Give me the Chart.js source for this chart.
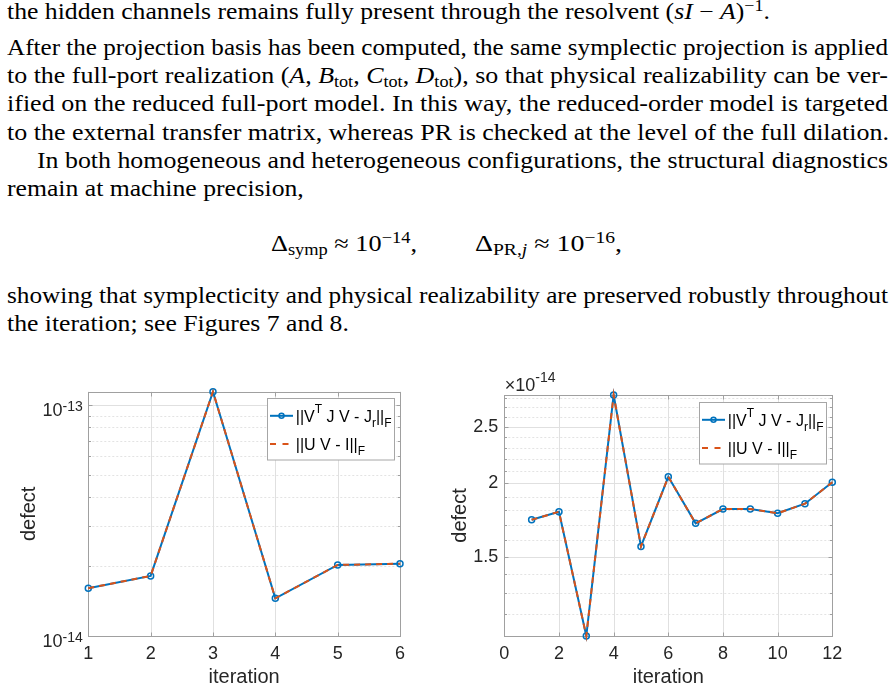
<!DOCTYPE html>
<html><head><meta charset="utf-8">
<script src="https://cdn.jsdelivr.net/npm/chart.js@4.4.1/dist/chart.umd.min.js"></script>
<style>
html,body{margin:0;padding:0;background:#fff;width:895px;height:689px;overflow:hidden;}
.txt{position:absolute;font-family:'Liberation Serif','Times New Roman',serif;font-size:22.5px;line-height:28px;color:#000;white-space:nowrap;display:inline-block;transform-origin:0 50%;}
.sup{font-size:0.7em;position:relative;top:-0.48em;}
.sub{font-size:0.7em;position:relative;top:0.28em;}
canvas{position:absolute;}
</style></head><body>
<div class="txt ln" data-end="1" style="left:7px;top:-2px">the hidden channels remains fully present through the resolvent (<i>sI</i> − <i>A</i>)<span class="sup">−1</span>.</div>
<div class="txt ln" data-w="881" style="left:7px;top:34px">After the projection basis has been computed, the same symplectic projection is applied</div>
<div class="txt ln" data-w="881" style="left:7px;top:62px">to the full-port realization (<i>A</i>, <i>B</i><span class="sub">tot</span>, <i>C</i><span class="sub">tot</span>, <i>D</i><span class="sub">tot</span>), so that physical realizability can be ver-</div>
<div class="txt ln" data-w="881" style="left:7px;top:90px">ified on the reduced full-port model. In this way, the reduced-order model is targeted</div>
<div class="txt ln" data-w="882" style="left:7px;top:119px">to the external transfer matrix, whereas PR is checked at the level of the full dilation.</div>
<div class="txt ln" data-w="851" style="left:37px;top:147px">In both homogeneous and heterogeneous configurations, the structural diagnostics</div>
<div class="txt ln" data-end="1" style="left:7px;top:175px">remain at machine precision,</div>
<div class="txt ln" data-w="146" data-eq="1" style="left:271px;top:230px">Δ<span class="sub">symp</span> ≈ 10<span class="sup">−14</span>,</div>
<div class="txt ln" data-w="147" data-eq="1" style="left:475px;top:230px">Δ<span class="sub">PR,<i>j</i></span> ≈ 10<span class="sup">−16</span>,</div>
<div class="txt ln" data-w="881" style="left:7px;top:282px">showing that symplecticity and physical realizability are preserved robustly throughout</div>
<div class="txt ln" data-end="1" style="left:7px;top:310px">the iteration; see Figures 7 and 8.</div>

<canvas id="leftChart" width="447" height="349" style="left:0;top:340px"></canvas>
<canvas id="rightChart" width="448" height="349" style="left:447px;top:340px"></canvas>

<script>
// ---------------- data ----------------
// Figure (left): homogeneous case, 6 iterations, log-scale defects
const leftIterations = [1, 2, 3, 4, 5, 6];
const leftSymplecticDefect = [1.61e-14, 1.82e-14, 1.142e-13, 1.456e-14, 2.03e-14, 2.056e-14];   // ||V^T J V - J_r||_F
const leftBiorthDefect     = [1.61e-14, 1.82e-14, 1.142e-13, 1.456e-14, 2.03e-14, 2.056e-14];   // ||U V - I||_F
const leftXTicks = [1, 2, 3, 4, 5, 6];
const leftYTickExponents = [-14, -13];
const leftYMajor = [1e-14, 1e-13];
const leftYMinor = [2e-14, 3e-14, 4e-14, 5e-14, 6e-14, 7e-14, 8e-14, 9e-14];
const leftYRange = [1e-14, 1.142e-13];

// Figure (right): heterogeneous case, 12 iterations, values in units of 10^-14
const rightExponent = -14;
const rightIterations = [1, 2, 3, 4, 5, 6, 7, 8, 9, 10, 11, 12];
const rightSymplecticDefect = [1.734, 1.79, 1.099, 2.83, 1.562, 2.053, 1.71, 1.809, 1.809, 1.779, 1.847, 2.01];
const rightBiorthDefect     = [1.734, 1.79, 1.099, 2.83, 1.562, 2.053, 1.71, 1.809, 1.809, 1.779, 1.847, 2.01];
const rightXTicks = [0, 2, 4, 6, 8, 10, 12];
const rightYTicks = [1.5, 2, 2.5];
const rightYMinor = [1.2, 1.3, 1.4, 1.6, 1.7, 1.8, 1.9, 2.1, 2.2, 2.3, 2.4, 2.6, 2.7, 2.8];
const rightYRange = [1.099, 2.83];
const rightXRange = [0, 12];

const legendLabels = ['||V^T J V - J_r||_F', '||U V - I||_F'];

// ---------------- text layout: widen Times-metric lines to Computer-Modern widths ----------------
(function () {
  const lines = Array.from(document.querySelectorAll('.ln'));
  const scales = [];
  lines.forEach(el => {
    if (!el.dataset.w) return;
    const target = parseFloat(el.dataset.w);
    const nat = el.getBoundingClientRect().width;
    const s = target / nat;
    el.style.transform = 'scaleX(' + s + ')';
    if (!el.dataset.eq) scales.push(s);
  });
  const avg = scales.reduce((a, v) => a + v, 0) / scales.length;
  lines.forEach(el => { if (el.dataset.end) el.style.transform = 'scaleX(' + avg + ')'; });
})();

// ---------------- charts ----------------
Chart.defaults.font.family = "'Liberation Sans', Arial, Helvetica, sans-serif";
Chart.defaults.color = '#262626';
const BLUE = '#0072BD', ORANGE = '#D95319';
const FONT = "'Liberation Sans', Arial, Helvetica, sans-serif";

function pts(xs, ys) { return xs.map((x, i) => ({x: x, y: ys[i]})); }

function makeDatasets(xs, a, b) {
  return [
    {label: legendLabels[0], data: pts(xs, a), borderColor: BLUE, borderWidth: 2,
     pointRadius: 3, pointBorderWidth: 1.5, pointBackgroundColor: 'rgba(0,0,0,0)', pointBorderColor: BLUE,
     pointHoverRadius: 3, tension: 0, clip: false, order: 1},
    {label: legendLabels[1], data: pts(xs, b), borderColor: ORANGE, borderWidth: 2, borderDash: [6, 5],
     pointRadius: 0, tension: 0, clip: false, order: 0}
  ];
}

function hline(ctx, x0, x1, y) { ctx.beginPath(); ctx.moveTo(x0, y); ctx.lineTo(x1, y); ctx.stroke(); }
function vline(ctx, x, y0, y1) { ctx.beginPath(); ctx.moveTo(x, y0); ctx.lineTo(x, y1); ctx.stroke(); }

// draws a string with ^X and _X single-token super/subscripts
function drawRich(ctx, str, x, base, size) {
  const parts = [];
  let i = 0, cur = '';
  while (i < str.length) {
    const c = str[i];
    if ((c === '^' || c === '_') && i + 1 < str.length) {
      if (cur) parts.push({t: cur, k: 'n'}); cur = '';
      parts.push({t: str[i + 1], k: c === '^' ? 'sup' : 'sub'});
      i += 2;
    } else { cur += c; i++; }
  }
  if (cur) parts.push({t: cur, k: 'n'});
  ctx.textAlign = 'left'; ctx.textBaseline = 'alphabetic';
  parts.forEach(p => {
    if (p.k === 'n') {
      ctx.font = size + 'px ' + FONT;
      ctx.fillText(p.t, x, base);
    } else {
      ctx.font = Math.round(size * 0.75) + 'px ' + FONT;
      ctx.fillText(p.t, x, p.k === 'sup' ? base - 9.5 : base + 5);
    }
    x += ctx.measureText(p.t).width;
  });
}

function drawLegend(ctx, a) {
  const w = 127, h = 61.5;
  const x0 = Math.round(a.right - 6.3 - w) + 0.5, y0 = Math.round(a.top + 6.5) + 0.5;
  ctx.save();
  ctx.fillStyle = '#fff'; ctx.fillRect(x0, y0, w, h);
  ctx.strokeStyle = '#a6a6a6'; ctx.lineWidth = 1; ctx.setLineDash([]);
  ctx.strokeRect(x0, y0, w, h);
  const rows = [y0 + 17.3, y0 + 45.4];
  const sx0 = x0 + 2.5, sx1 = x0 + 25.5;
  ctx.strokeStyle = BLUE; ctx.lineWidth = 2;
  hline(ctx, sx0, sx1, rows[0]);
  ctx.lineWidth = 1.5; ctx.beginPath(); ctx.arc((sx0 + sx1) / 2, rows[0], 2.5, 0, Math.PI * 2); ctx.stroke();
  ctx.strokeStyle = ORANGE; ctx.lineWidth = 2; ctx.setLineDash([6, 6.5]);
  hline(ctx, sx0, sx1, rows[1]);
  ctx.setLineDash([]);
  ctx.fillStyle = '#000';
  drawRich(ctx, legendLabels[0], x0 + 28.3, rows[0] + 6.5, 16);
  drawRich(ctx, legendLabels[1], x0 + 28.3, rows[1] + 6.5, 16);
  ctx.restore();
}

function decorPlugin(cfg) {
  return {
    id: 'decor',
    beforeDatasetsDraw(chart) {
      const {ctx, chartArea: a, scales: {x, y}} = chart;
      ctx.save();
      ctx.lineWidth = 1;
      ctx.strokeStyle = '#e3e3e3'; ctx.setLineDash([2, 2]);
      cfg.yMinor.forEach(v => hline(ctx, a.left, a.right, Math.round(y.getPixelForValue(v)) + 0.5));
      ctx.setLineDash([]);
      ctx.strokeStyle = '#e0e0e0';
      cfg.yMajor.forEach(v => hline(ctx, a.left, a.right, Math.round(y.getPixelForValue(v)) + 0.5));
      cfg.xMajor.forEach(v => vline(ctx, Math.round(x.getPixelForValue(v)) + 0.5, a.top, a.bottom));
      ctx.strokeStyle = '#a0a0a0';
      const L = Math.round(a.left) + 0.5, R = Math.round(a.right) + 0.5, T = Math.round(a.top) + 0.5, B = Math.round(a.bottom) + 0.5;
      ctx.strokeRect(L, T, R - L, B - T);
      cfg.yMajor.forEach(v => { const p = Math.round(y.getPixelForValue(v)) + 0.5; hline(ctx, L, L + 4, p); hline(ctx, R - 4, R, p); });
      cfg.yMinor.forEach(v => { const p = Math.round(y.getPixelForValue(v)) + 0.5; hline(ctx, L, L + 2.5, p); hline(ctx, R - 2.5, R, p); });
      cfg.xMajor.forEach(v => { const p = Math.round(x.getPixelForValue(v)) + 0.5; vline(ctx, p, B - 4, B); vline(ctx, p, T, T + 4); });
      ctx.restore();
    },
    afterDatasetsDraw(chart) {
      const {ctx, chartArea: a, scales: {y}} = chart;
      ctx.save();
      ctx.fillStyle = '#262626';
      if (cfg.powerLabels) {
        cfg.powerLabels.forEach(e => {
          const p = y.getPixelForValue(Math.pow(10, e));
          const sup = '-' + Math.abs(e);
          ctx.font = '14px ' + FONT;
          const ws = ctx.measureText(sup).width;
          ctx.font = '18px ' + FONT;
          const wb = ctx.measureText('10').width;
          const xr = a.left - 5.6;
          ctx.textAlign = 'left'; ctx.textBaseline = 'alphabetic';
          ctx.fillText('10', xr - ws - wb, p + 10.5);
          ctx.font = '14px ' + FONT;
          ctx.fillText(sup, xr - ws, p + 5.5);
        });
      }
      if (cfg.exponent !== undefined) {
        ctx.textAlign = 'left'; ctx.textBaseline = 'alphabetic';
        ctx.font = '18px ' + FONT;
        let xx = a.left + 0.5;
        ctx.fillText('×', xx, a.top - 4.3);
        xx += ctx.measureText('×').width;
        ctx.fillText('10', xx, a.top - 4.3);
        xx += ctx.measureText('10').width;
        ctx.font = '14px ' + FONT;
        ctx.fillText('-' + Math.abs(cfg.exponent), xx, a.top - 13.5);
      }
      ctx.restore();
      drawLegend(ctx, a);
    }
  };
}

function baseOptions(o) {
  return {
    responsive: false, animation: false, devicePixelRatio: 1,
    layout: {padding: {left: 0, right: o.padRight, top: o.padTop, bottom: 0}},
    plugins: {legend: {display: false}, tooltip: {enabled: false}},
    events: [],
    scales: {
      x: {
        type: 'linear', min: o.xMin, max: o.xMax,
        afterBuildTicks: s => { s.ticks = o.xTicks.map(v => ({value: v})); },
        ticks: {font: {size: 18}, color: '#262626', padding: 7, maxRotation: 0, autoSkip: false},
        grid: {display: false, drawTicks: false}, border: {display: false},
        title: {display: true, text: 'iteration', font: {size: 20}, color: '#262626', padding: {top: 0, bottom: 0}},
        afterFit: s => { s.height = 53; }
      },
      y: {
        type: 'logarithmic', min: o.yMin, max: o.yMax,
        afterBuildTicks: s => { s.ticks = o.yLabelTicks.map(v => ({value: v})); },
        ticks: {display: o.showYTicks, font: {size: 18}, color: '#262626', padding: 6, autoSkip: false,
                callback: v => String(v)},
        grid: {display: false, drawTicks: false}, border: {display: false},
        title: {display: true, text: 'defect', font: {size: 20}, color: '#262626', padding: {top: o.yTitlePad, bottom: 0}},
        afterFit: s => { s.width = o.yWidth; }
      }
    }
  };
}

new Chart(document.getElementById('leftChart'), {
  type: 'line',
  data: {datasets: makeDatasets(leftIterations, leftSymplecticDefect, leftBiorthDefect)},
  options: baseOptions({padRight: 47, padTop: 51.7, xMin: leftXTicks[0], xMax: leftXTicks[leftXTicks.length - 1],
    xTicks: leftXTicks, yMin: leftYRange[0], yMax: leftYRange[1], yLabelTicks: leftYMajor, showYTicks: false,
    yTitlePad: 17, yWidth: 88.3}),
  plugins: [decorPlugin({yMinor: leftYMinor, yMajor: leftYMajor, xMajor: leftXTicks, powerLabels: leftYTickExponents})]
});

new Chart(document.getElementById('rightChart'), {
  type: 'line',
  data: {datasets: makeDatasets(rightIterations, rightSymplecticDefect, rightBiorthDefect)},
  options: baseOptions({padRight: 62.7, padTop: 55, xMin: rightXRange[0], xMax: rightXRange[1],
    xTicks: rightXTicks, yMin: rightYRange[0], yMax: rightYRange[1], yLabelTicks: rightYTicks, showYTicks: true,
    yTitlePad: 1.7, yWidth: 57.3}),
  plugins: [decorPlugin({yMinor: rightYMinor, yMajor: rightYTicks, xMajor: rightXTicks, exponent: rightExponent})]
});
</script>
</body></html>
